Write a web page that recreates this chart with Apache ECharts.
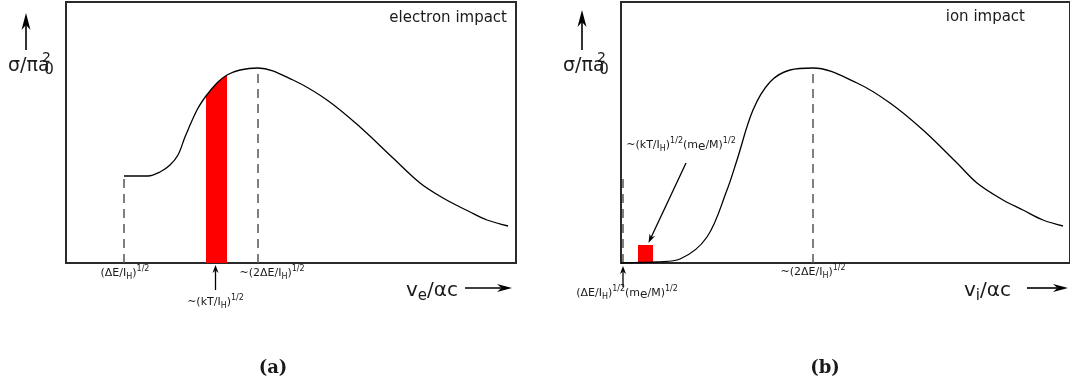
<!DOCTYPE html>
<html><head><meta charset="utf-8">
<script src="https://cdn.jsdelivr.net/npm/echarts@6/dist/echarts.min.js"></script>
<style>html,body{margin:0;padding:0;background:#fff}#c{width:1070px;height:383px}</style>
</head><body><div id="c"></div>
<script>
// ---- Data (arbitrary units) ----
// Panel (a): electron impact
const electronCurve = [[58,87],[82,87],[94,91],[104,98],[112,108],[119,126],[131,153],[140,167],[151,180],[161,188],[174,193],[192,195],[227,183],[261,163],[294,136],[327,105],[354,80],[377,65],[404,51],[421,43],[442,37]];
const electronBand = [[140,167],[151,180],[161,188]];
const electronThreshold = [[58,0],[58,87]];
const electronPeak = [[192,0],[192,195]];
// Panel (b): ion impact
const ionCurve = [[0,0],[20,0.5],[36,1],[59,4],[86,26],[106,73],[116,103],[132,153],[149,181],[169,193],[192,195],[236,180],[269,160],[302,133],[336,100],[356,80],[382,63],[402,53],[422,43],[442,37]];
const ionBand = [[17,18],[32,18]];
const ionThreshold = [[2,0],[2,86]];
const ionPeak = [[192,0],[192,195]];
// Tick-like labels (rich markup)
const tickLabelsA = ['{m|(ΔE/I}{b|H}{m|)}{p|1/2}', '{m|~(kT/I}{b|H}{m|)}{p|1/2}', '{m|~(2ΔE/I}{b|H}{m|)}{p|1/2}'];
const tickLabelsB = ['{m|(ΔE/I}{b|H}{m|)}{p|1/2}{m|(m}{e|e}{m|/M)}{p|1/2}', '{m|~(kT/I}{b|H}{m|)}{p|1/2}{m|(m}{e|e}{m|/M)}{p|1/2}', '{m|~(2ΔE/I}{b|H}{m|)}{p|1/2}'];
const titles = ['electron impact', 'ion impact'];
const axisNames = ['{v|v}{s|e}{v|/αc}', '{v|v}{s|i}{v|/αc}'];
const panelTags = ['(a)', '(b)'];

const F = 'DejaVu Sans';
const INK = '#1a1a1a';
const curveStyle = {color:'#000', width:1.3};
const dashStyle = {color:'#555', width:1.5, type:[9,6]};
function lineSeries(g, data, extra){
  return Object.assign({type:'line', xAxisIndex:g, yAxisIndex:g, data:data, showSymbol:false, symbol:'none', silent:true, animation:false}, extra);
}
const option = {
  backgroundColor:'#fff',
  animation:false,
  grid:[
    {left:66, top:2, width:450, height:261, show:true, borderColor:'#2a2a2a', borderWidth:2, backgroundColor:'transparent'},
    {left:621, top:2, width:449, height:261, show:true, borderColor:'#2a2a2a', borderWidth:2, backgroundColor:'transparent'}
  ],
  xAxis:[
    {gridIndex:0, type:'value', min:0, max:450, show:false},
    {gridIndex:1, type:'value', min:0, max:449, show:false}
  ],
  yAxis:[
    {gridIndex:0, type:'value', min:0, max:261, show:false},
    {gridIndex:1, type:'value', min:0, max:261, show:false}
  ],
  series:[
    lineSeries(0, electronBand, {smooth:0.3, lineStyle:{width:0}, areaStyle:{color:'#ff0000', opacity:1}, z:1}),
    lineSeries(0, electronThreshold, {lineStyle:dashStyle, z:2}),
    lineSeries(0, electronPeak, {lineStyle:dashStyle, z:2}),
    lineSeries(0, electronCurve, {smooth:0.35, lineStyle:curveStyle, z:3}),
    lineSeries(1, ionBand, {lineStyle:{width:0}, areaStyle:{color:'#ff0000', opacity:1}, z:1}),
    lineSeries(1, ionThreshold, {lineStyle:dashStyle, z:2}),
    lineSeries(1, ionPeak, {lineStyle:dashStyle, z:2}),
    lineSeries(1, ionCurve, {smooth:0.35, lineStyle:curveStyle, z:3})
  ]
};
const chart = echarts.init(document.getElementById('c'), null, {renderer:'canvas'});
chart.setOption(option);
const P = (g, xy) => chart.convertToPixel({gridIndex:g}, xy);

const richS = {
  m:{fontSize:11, lineHeight:16, fontFamily:F, fill:INK, verticalAlign:'middle'},
  p:{fontSize:8, lineHeight:8, fontFamily:F, fill:INK, verticalAlign:'top'},
  b:{fontSize:8, lineHeight:8, fontFamily:F, fill:INK, verticalAlign:'bottom'},
  e:{fontSize:12, lineHeight:9, fontFamily:F, fill:INK, verticalAlign:'bottom'}
};
const richAx = {
  v:{fontSize:20, lineHeight:26, fontFamily:F, fill:INK, verticalAlign:'middle'},
  s:{fontSize:15, lineHeight:12, fontFamily:F, fill:INK, verticalAlign:'bottom'}
};
function rtext(x, y, txt, rich, align){
  return {type:'text', x:x, y:y, silent:true, z:10, style:{text:txt, rich:rich, fill:INK, align:align||'center', textAlign:align||'center', verticalAlign:'middle', textVerticalAlign:'middle', font:'11px '+F}};
}
function ptext(x, y, txt, font, align){
  return {type:'text', x:x, y:y, silent:true, z:10, style:{text:txt, fill:INK, font:font, align:align||'center', textAlign:align||'center', verticalAlign:'middle', textVerticalAlign:'middle'}};
}
function arrow(x1,y1,x2,y2,hl,hw,lw){
  const dx=x2-x1, dy=y2-y1, L=Math.hypot(dx,dy), ux=dx/L, uy=dy/L, nx=-uy, ny=ux;
  const bx=x2-ux*hl, by=y2-uy*hl, cx=x2-ux*hl*0.7, cy=y2-uy*hl*0.7;
  return [
    {type:'line', silent:true, z:10, shape:{x1:x1,y1:y1,x2:cx,y2:cy}, style:{stroke:'#000', lineWidth:lw}},
    {type:'polygon', silent:true, z:10, shape:{points:[[x2,y2],[bx+nx*hw/2,by+ny*hw/2],[cx,cy],[bx-nx*hw/2,by-ny*hw/2]]}, style:{fill:'#000'}}
  ];
}
const g = [];
// y-axis names
[[0,8,26],[1,563,582]].forEach(([k,x0,ax])=>{
  g.push(ptext(x0, 66, 'σ/πa', '19px '+F, 'left'));
  g.push(ptext(x0+38.5, 58, '2', '14px '+F));
  g.push(ptext(x0+41, 70, '0', '15px '+F));
  g.push(...arrow(ax, 50, ax, k===0?13:10, 17, 9, 1.6));
});
// Panel (a) labels
const aT = P(0,[electronThreshold[0][0],0]), aPk = P(0,[electronPeak[0][0],0]);
const aBand = P(0,[(electronBand[0][0]+electronBand[electronBand.length-1][0])/2,0]);
g.push(rtext(aT[0]+1, 273, tickLabelsA[0], richS));
g.push(rtext(aPk[0]+14, 273, tickLabelsA[2], richS));
g.push(rtext(aBand[0]-1, 302, tickLabelsA[1], richS));
g.push(...arrow(aBand[0]-1, 290, aBand[0]-1, 265, 8, 6, 1.3));
g.push(rtext(406, 291, axisNames[0], richAx, 'left'));
g.push(...arrow(465, 288, 512, 288, 15, 8, 1.6));
g.push(ptext(507, 18, titles[0], '15px '+F, 'right'));
g.push(ptext(273, 368, panelTags[0], 'bold 18px "DejaVu Serif"'));
// Panel (b) labels
const bT = P(1,[ionThreshold[0][0],0]), bPk = P(1,[ionPeak[0][0],0]);
const bBox = P(1,[(ionBand[0][0]+ionBand[1][0])/2, ionBand[0][1]]);
g.push(rtext(bT[0]+4, 293, tickLabelsB[0], richS));
g.push(...arrow(bT[0], 287, bT[0], 266, 8, 6, 1.3));
g.push(rtext(bPk[0], 272, tickLabelsB[2], richS));
g.push(rtext(681, 145, tickLabelsB[1], richS));
g.push(...arrow(686, 163, bBox[0]+3, bBox[1]-2, 9, 6, 1.3));
g.push(rtext(964, 291, axisNames[1], richAx, 'left'));
g.push(...arrow(1027, 288, 1068, 288, 15, 8, 1.6));
g.push(ptext(1025, 17, titles[1], '15px '+F, 'right'));
g.push(ptext(825, 368, panelTags[1], 'bold 18px "DejaVu Serif"'));
chart.setOption({graphic:{elements:g}});
</script></body></html>
